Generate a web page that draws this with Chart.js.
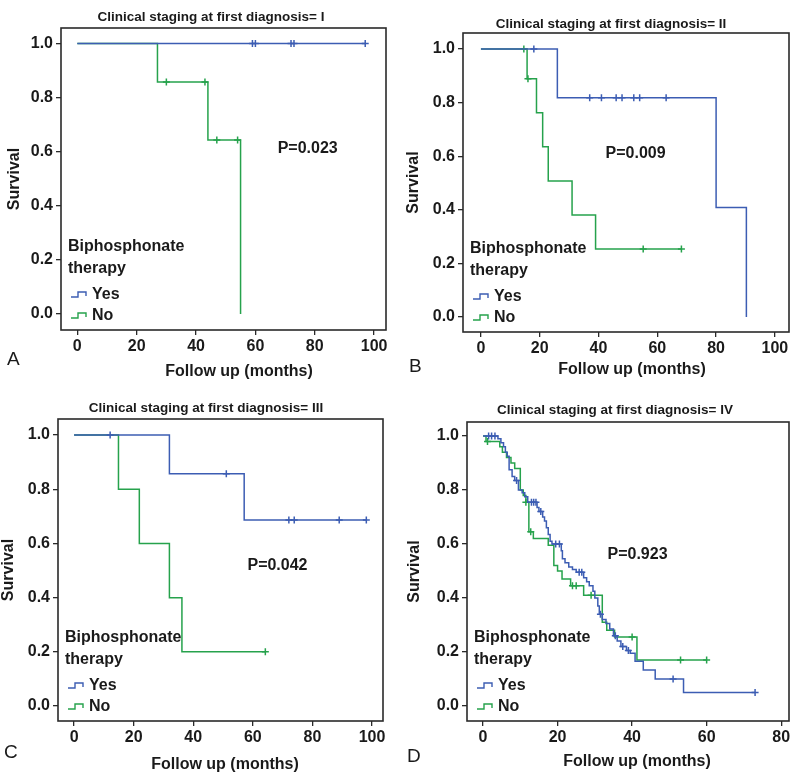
<!DOCTYPE html>
<html>
<head>
<meta charset="utf-8">
<script src="https://cdn.jsdelivr.net/npm/chart.js@4.4.1/dist/chart.umd.min.js"></script>
<style>
  body { margin: 0; background: #fff; }
  #wrap { position: relative; width: 800px; height: 777px; }
  canvas { position: absolute; }
</style>
</head>
<body>
<div id="wrap">
  <canvas id="panelA"></canvas>
  <canvas id="panelB"></canvas>
  <canvas id="panelC"></canvas>
  <canvas id="panelD"></canvas>
</div>
<script>
// ---- data ----
const stages = ["I", "II", "III", "IV"];
const pValues = ["P=0.023", "P=0.009", "P=0.042", "P=0.923"];
const panelLetters = ["A", "B", "C", "D"];
const groupNames = ["Yes", "No"];
const yTicks = [0, 0.2, 0.4, 0.6, 0.8, 1.0];
const xTicks100 = [0, 20, 40, 60, 80, 100];
const xTicks80 = [0, 20, 40, 60, 80];

// stage I
const aYesTimes = [0, 97];
const aYesSurv = [1, 1];
const aYesCensor = [59, 60, 72, 73, 97];
const aNoTimes = [0, 27, 44, 55];
const aNoSurv = [1, 0.857, 0.643, 0];
const aNoCensor = [30, 43, 47, 54];

// stage II
const bYesTimes = [0, 26, 80, 90.3];
const bYesSurv = [1, 0.818, 0.409, 0];
const bYesCensor = [18, 37, 41, 46, 48, 52, 54, 63];
const bNoTimes = [0, 15.7, 18.9, 21, 22.9, 31, 39, 68.2];
const bNoSurv = [1, 0.889, 0.762, 0.635, 0.508, 0.381, 0.254, 0.254];
const bNoCensor = [14.6, 16, 55.2, 68.2];

// stage III
const cYesTimes = [0, 32, 57.1, 98.1];
const cYesSurv = [1, 0.857, 0.686, 0.686];
const cYesCensor = [12.1, 51.1, 72.1, 73.9, 89, 98.1];
const cNoTimes = [0, 14.9, 21.9, 32, 36.2, 64.2];
const cNoSurv = [1, 0.8, 0.6, 0.4, 0.2, 0.2];
const cNoCensor = [64.2];

// stage IV
const dYesTimes = [0, 4.0, 4.8, 5.5, 6.0, 6.5, 7.0, 7.8, 8.5, 9.5, 10.5, 11.2, 12.0, 14.5, 15.0, 16.0,
  16.5, 17.0, 17.5, 18.0, 18.5, 21.0, 21.3, 22.0, 23.0, 24.0, 25.0, 27.0, 27.8, 28.5, 29.5, 30.0, 30.8,
  31.2, 32.0, 33.0, 34.0, 35.0, 36.0, 37.0, 38.5, 39.5, 40.8, 43.0, 46.2, 53.8, 73];
const dYesSurv = [1, 0.99, 0.975, 0.96, 0.94, 0.925, 0.875, 0.85, 0.835, 0.80, 0.79, 0.775, 0.755, 0.735,
  0.72, 0.70, 0.685, 0.66, 0.635, 0.61, 0.60, 0.575, 0.545, 0.53, 0.515, 0.505, 0.495, 0.475, 0.46, 0.445,
  0.425, 0.40, 0.37, 0.34, 0.32, 0.305, 0.285, 0.26, 0.24, 0.22, 0.205, 0.195, 0.165, 0.133, 0.10, 0.05, 0.05];
const dYesCensor = [1.5, 2.3, 3.2, 9.0, 13.0, 13.6, 14.2, 15.5, 19.5, 20.5, 25.8, 26.5, 31.5, 35.5, 37.5, 39.0, 51, 73];
const dNoTimes = [0, 0.8, 4.5, 5.2, 6.3, 7.5, 8.5, 10.0, 10.8, 11.5, 12.3, 13.5, 17.5, 19.0, 20.0, 21.2,
  23.5, 27.0, 32.0, 33.2, 35.3, 41.3, 60];
const dNoSurv = [1, 0.98, 0.96, 0.94, 0.92, 0.90, 0.88, 0.80, 0.78, 0.755, 0.645, 0.62, 0.595, 0.52, 0.50,
  0.47, 0.445, 0.41, 0.31, 0.28, 0.255, 0.17, 0.17];
const dNoCensor = [1.2, 11.5, 12.8, 24.0, 25.0, 29.0, 40.0, 53.0, 60];

// ---- styling / layout ----
const BLUE = "#3c5db3";
const GREEN = "#26a24c";
const INK = "#1a1a1a";
const FONT = '"Liberation Sans", Arial, sans-serif';

const panels = [
  { id: "panelA", x: 0, y: 0, w: 400, h: 390, box: [61, 28, 386, 330], xr: [-5.5, 104], yr: [-0.059, 1.057],
    titleX: 211, titleY: 17, xLabX: 239, xLabY: 372, yLabX: 15, letX: 7, letY: 360, pAt: [67.5, 0.61], xt: xTicks100,
    yes: [aYesTimes, aYesSurv, aYesCensor], no: [aNoTimes, aNoSurv, aNoCensor] },
  { id: "panelB", x: 400, y: 0, w: 400, h: 390, box: [63, 33, 389, 332], xr: [-6.1, 104.8], yr: [-0.056, 1.06],
    titleX: 211, titleY: 24, xLabX: 232, xLabY: 370, yLabX: 14, letX: 9, letY: 367, pAt: [42.4, 0.61], xt: xTicks100,
    yes: [bYesTimes, bYesSurv, bYesCensor], no: [bNoTimes, bNoSurv, bNoCensor] },
  { id: "panelC", x: 0, y: 390, w: 400, h: 387, box: [58, 29, 383, 331], xr: [-5.4, 103.7], yr: [-0.055, 1.059],
    titleX: 206, titleY: 18, xLabX: 225, xLabY: 375, yLabX: 9, letX: 4, letY: 363, pAt: [58.2, 0.52], xt: xTicks100,
    yes: [cYesTimes, cYesSurv, cYesCensor], no: [cNoTimes, cNoSurv, cNoCensor] },
  { id: "panelD", x: 400, y: 390, w: 400, h: 387, box: [67, 32, 389, 331], xr: [-4.3, 82.1], yr: [-0.056, 1.052],
    titleX: 215, titleY: 20, xLabX: 237, xLabY: 372, yLabX: 15, letX: 7, letY: 367, pAt: [33.4, 0.562], xt: xTicks80,
    yes: [dYesTimes, dYesSurv, dYesCensor], no: [dNoTimes, dNoSurv, dNoCensor] },
];

function survAt(times, surv, t) {
  let s = surv[0];
  for (let i = 0; i < times.length; i++) if (times[i] <= t) s = surv[i];
  return s;
}

function curveSets(group, color) {
  const [times, surv, cens] = group;
  return [
    { data: times.map((t, i) => ({ x: t, y: surv[i] })), stepped: "before", borderColor: color,
      borderWidth: 1.5, pointRadius: 0, fill: false },
    { data: cens.map((t) => ({ x: t, y: survAt(times, surv, t) })), showLine: false, pointStyle: "cross",
      pointRadius: 3.5, borderColor: color, borderWidth: 1.5 },
  ];
}

const decor = {
  id: "decor",
  afterDraw(chart, args, o) {
    const { ctx, chartArea: a } = chart;
    ctx.save();
    ctx.strokeStyle = "#2a2a2a";
    ctx.lineWidth = 1.6;
    ctx.strokeRect(a.left, a.top, a.right - a.left, a.bottom - a.top);

    ctx.fillStyle = INK;
    ctx.textBaseline = "middle";
    ctx.textAlign = "center";
    ctx.font = "bold 13.5px " + FONT;
    ctx.fillText(o.title, o.titleX, o.titleY);
    ctx.font = "bold 16px " + FONT;
    ctx.fillText("Follow up (months)", o.xLabX, o.xLabY);

    ctx.save();
    ctx.translate(o.yLabX, (a.top + a.bottom) / 2);
    ctx.rotate(-Math.PI / 2);
    ctx.fillText("Survival", 0, 0);
    ctx.restore();

    ctx.textAlign = "left";
    ctx.fillText(o.pText, chart.scales.x.getPixelForValue(o.pAt[0]), chart.scales.y.getPixelForValue(o.pAt[1]));

    // legend inside plot
    const lx = a.left + 7;
    ctx.fillText("Biphosphonate", lx, a.bottom - 83);
    ctx.fillText("therapy", lx, a.bottom - 61);
    [[groupNames[0], BLUE, a.bottom - 35], [groupNames[1], GREEN, a.bottom - 14]].forEach(([name, col, yy]) => {
      ctx.strokeStyle = col;
      ctx.lineWidth = 1.4;
      ctx.beginPath();
      ctx.moveTo(lx + 3, yy + 2);
      ctx.lineTo(lx + 10, yy + 2);
      ctx.lineTo(lx + 10, yy - 3);
      ctx.lineTo(lx + 18, yy - 3);
      ctx.lineTo(lx + 18, yy + 1);
      ctx.stroke();
      ctx.fillStyle = INK;
      ctx.fillText(name, lx + 24, yy);
    });

    ctx.font = "19px " + FONT;
    ctx.fillText(o.letter, o.letX, o.letY);
    ctx.restore();
  },
};

panels.forEach((p, k) => {
  const cv = document.getElementById(p.id);
  cv.style.left = p.x + "px";
  cv.style.top = p.y + "px";
  cv.width = p.w;
  cv.height = p.h;
  const [bl, bt, br, bb] = p.box;
  const tickFont = { family: FONT, size: 16, weight: "bold" };

  new Chart(cv.getContext("2d"), {
    type: "line",
    data: { datasets: [...curveSets(p.yes, BLUE), ...curveSets(p.no, GREEN)] },
    options: {
      responsive: false,
      animation: false,
      devicePixelRatio: 1,
      layout: { padding: { top: bt, right: p.w - br, left: 0, bottom: 0 } },
      plugins: {
        legend: { display: false },
        tooltip: { enabled: false },
        decor: {
          title: "Clinical staging at first diagnosis= " + stages[k],
          titleX: p.titleX, titleY: p.titleY, xLabX: p.xLabX, xLabY: p.xLabY, yLabX: p.yLabX,
          pText: pValues[k], pAt: p.pAt, letter: panelLetters[k], letX: p.letX, letY: p.letY,
        },
      },
      scales: {
        x: {
          type: "linear", min: p.xr[0], max: p.xr[1],
          afterFit: (s) => { s.height = p.h - bb; },
          afterBuildTicks: (s) => { s.ticks = p.xt.map((v) => ({ value: v })); },
          grid: { drawOnChartArea: false, tickLength: 5, color: "#2a2a2a", lineWidth: 1.3 },
          border: { display: false },
          ticks: { font: tickFont, color: INK, padding: 2, maxRotation: 0, autoSkip: false },
        },
        y: {
          type: "linear", min: p.yr[0], max: p.yr[1],
          afterFit: (s) => { s.width = bl; },
          afterBuildTicks: (s) => { s.ticks = yTicks.map((v) => ({ value: v })); },
          grid: { drawOnChartArea: false, tickLength: 5, color: "#2a2a2a", lineWidth: 1.3 },
          border: { display: false },
          ticks: { font: tickFont, color: INK, padding: 3, autoSkip: false, callback: (v) => v.toFixed(1) },
        },
      },
    },
    plugins: [decor],
  });
});
</script>
</body>
</html>
